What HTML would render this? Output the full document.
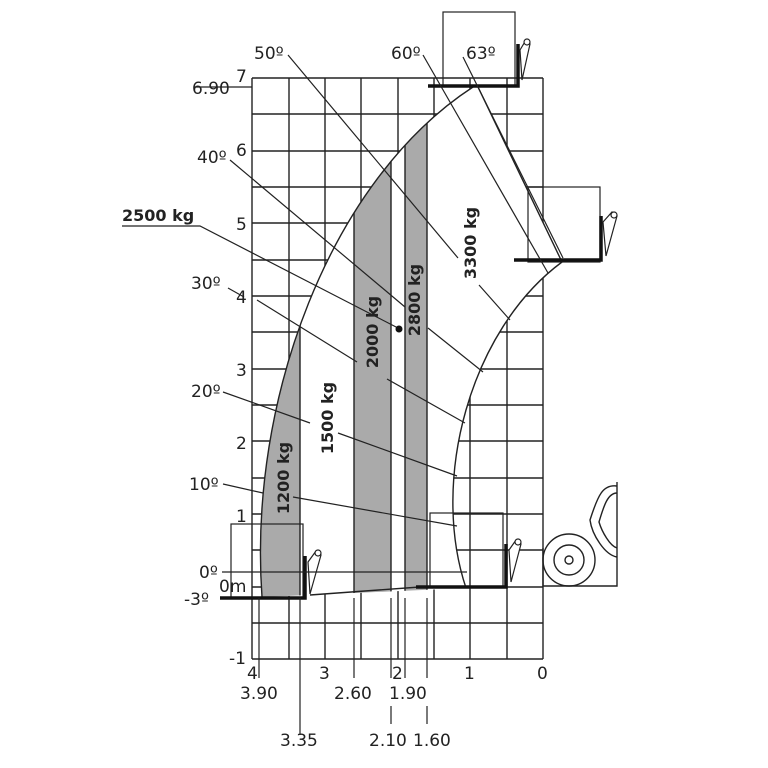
<!DOCTYPE html>
<html><head><meta charset="utf-8"><style>
html,body{margin:0;padding:0;background:#fff}
svg{display:block}
text{font-family:"DejaVu Sans","Liberation Sans",sans-serif;fill:#222}
.n{font-size:17px}
.b{font-size:16px;font-weight:bold}
</style></head><body>
<svg width="768" height="768" viewBox="0 0 768 768">
<defs>
<clipPath id="env"><path d="M262,597 C248,400 330,180 473,87 L478,87 L562,262 C470,330 430,480 466,588 L310,595 Z"/></clipPath>
</defs>
<g stroke="#222" stroke-width="1.4" fill="none">
<path d="M252,78V659M289,78V659M325,78V659M361,78V659M398,78V659M434,78V659M470,78V659M507,78V659M543,78V659"/>
<path d="M252,78H543M252,114H543M252,151H543M252,187H543M252,223H543M252,260H543M252,296H543M252,332H543M252,369H543M252,405H543M252,441H543M252,478H543M252,514H543M252,550H543M252,587H543M252,623H543M252,659H543"/>
</g>
<path d="M262,597 C248,400 330,180 473,87 L478,87 L562,262 C470,330 430,480 466,588 L310,595 Z" fill="#fff"/>
<g clip-path="url(#env)" fill="#aaa" stroke="#222" stroke-width="1.4">
<rect x="240" y="60" width="60" height="560"/>
<rect x="354" y="60" width="37" height="560"/>
<rect x="405" y="60" width="22" height="560"/>
</g>
<path d="M262,597 C248,400 330,180 473,87 M478,87 L562,262 C470,330 430,480 466,588 M310,595 L420,587" fill="none" stroke="#222" stroke-width="1.4"/>
<g fill="none" stroke="#222" stroke-width="1.2">
<rect x="443" y="12" width="72" height="74"/>
<rect x="528" y="187" width="72" height="75"/>
<rect x="231" y="524" width="72" height="74"/>
<rect x="430" y="513" width="73" height="74"/>
</g>
<g fill="none" stroke="#111" stroke-width="3.5">
<path d="M428,86H518V44"/>
<path d="M514,260H601V216"/>
<path d="M220,598H305V556"/>
<path d="M416,587H506V544"/>
</g>
<g fill="#fff" stroke="#222" stroke-width="1.2">
<path d="M520,50 L526,40 L530,44 L522,80Z"/><circle cx="527" cy="42" r="3"/>
<path d="M603,222 L612,212 L617,216 L606,256Z"/><circle cx="614" cy="215" r="3"/>
<path d="M308,562 L316,551 L321,555 L310,594Z"/><circle cx="318" cy="553" r="3"/>
<path d="M509,550 L516,540 L521,544 L511,582Z"/><circle cx="518" cy="542" r="3"/>
</g>
<g fill="none" stroke="#222" stroke-width="1.4">
<circle cx="569" cy="560" r="26"/><circle cx="569" cy="560" r="15"/><circle cx="569" cy="560" r="4"/>
<path d="M617,482V586H543V548"/>
<path d="M617,486 C603,484 598,495 590,520 C592,535 605,555 617,557"/>
<path d="M617,493 C608,493 604,505 599,522 C602,532 610,546 617,548"/>
</g>
<g stroke="#222" stroke-width="1.2" fill="none">
<path d="M288,55L458,258M479,285L510,320"/>
<path d="M423,55L548,273"/>
<path d="M463,57L563,258"/>
<path d="M230,160L405,307M428,328L483,372"/>
<path d="M122,226H200L398,328"/>
<path d="M228,288L244,297M257,300L357,362M387,379L465,423"/>
<path d="M223,392L310,423M338,433L457,476"/>
<path d="M223,484L263,493M293,497L457,526"/>
<path d="M222,572H467"/>
<path d="M195,87H252"/>
<path d="M259,598V678M354,598V678M405,598V678M300,598V735M391,598V678M391,706V724M427,598V678M427,706V724"/>
</g>
<circle cx="399" cy="329" r="3.5" fill="#111"/>
<g class="n">
<text x="236" y="82">7</text>
<text x="192" y="94">6.90</text>
<text x="236" y="156">6</text>
<text x="236" y="230">5</text>
<text x="236" y="303">4</text>
<text x="236" y="376">3</text>
<text x="236" y="449">2</text>
<text x="236" y="522">1</text>
<text x="219" y="592">0m</text>
<text x="229" y="664">-1</text>
<text x="247" y="679">4</text>
<text x="319" y="679">3</text>
<text x="392" y="679">2</text>
<text x="464" y="679">1</text>
<text x="537" y="679">0</text>
<text x="240" y="699">3.90</text>
<text x="334" y="699">2.60</text>
<text x="389" y="699">1.90</text>
<text x="280" y="746">3.35</text>
<text x="369" y="746">2.10</text>
<text x="413" y="746">1.60</text>
<text x="254" y="59">50º</text>
<text x="391" y="59">60º</text>
<text x="466" y="59">63º</text>
<text x="197" y="163">40º</text>
<text x="191" y="289">30º</text>
<text x="191" y="397">20º</text>
<text x="189" y="490">10º</text>
<text x="199" y="578">0º</text>
<text x="184" y="605">-3º</text>
</g>
<text class="b" x="122" y="221">2500 kg</text>
<g class="b" text-anchor="middle">
<text transform="translate(289,478) rotate(-90)">1200 kg</text>
<text transform="translate(333,418) rotate(-90)">1500 kg</text>
<text transform="translate(378,332) rotate(-90)">2000 kg</text>
<text transform="translate(420,300) rotate(-90)">2800 kg</text>
<text transform="translate(476,243) rotate(-90)">3300 kg</text>
</g>
</svg>
</body></html>
